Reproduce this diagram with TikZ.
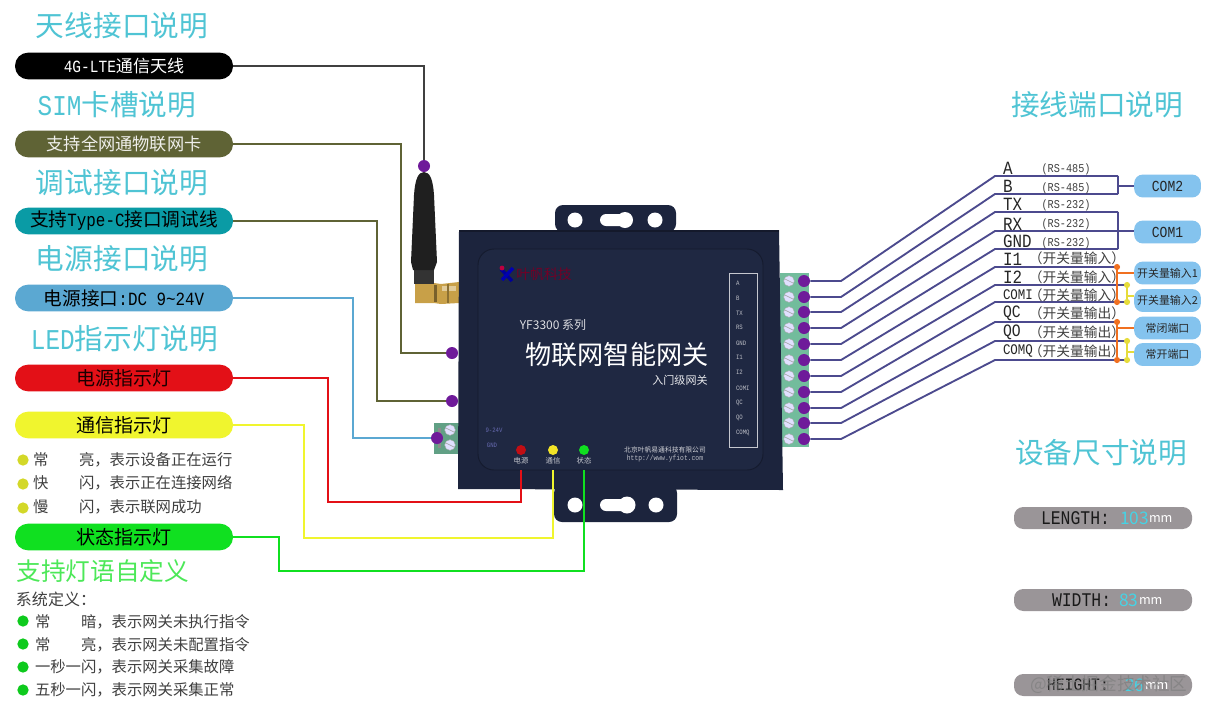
\documentclass[tikz,border=0pt]{standalone}
\usepackage{fontspec}
\setmainfont{Noto Sans CJK SC}
\newfontfamily\nar[FakeStretch=0.85]{Liberation Mono}
\usetikzlibrary{calc}
\definecolor{titlec}{HTML}{4FC4D4}
\definecolor{dimc}{HTML}{45D3E5}
\definecolor{dotc}{HTML}{6F1A9A}
\definecolor{wirec}{HTML}{4C4A8E}
\definecolor{bodyc}{HTML}{1C243D}
\definecolor{panelc}{HTML}{1F2842}
\definecolor{olivec}{HTML}{5F6335}
\definecolor{tealc}{HTML}{0A9BA5}
\definecolor{bluec}{HTML}{5BA8D2}
\definecolor{redc}{HTML}{E31017}
\definecolor{yelc}{HTML}{F0F52E}
\definecolor{grnc}{HTML}{10E020}
\definecolor{lbluec}{HTML}{84C3EE}
\definecolor{orangec}{HTML}{F07020}
\definecolor{ylinec}{HTML}{E6DC3A}
\definecolor{termc}{HTML}{72BC9C}
\definecolor{goldc}{HTML}{C8A048}
\definecolor{greyp}{HTML}{9A9598}
\tikzset{
  txt/.style={inner sep=0pt,outer sep=0pt},
  titletxt/.style={txt,text=titlec,font=\fontsize{21.5}{24}\selectfont},
  pill/.style={txt,rounded corners=9.8pt,minimum width=163.5pt,minimum height=20pt},
  dot/.style={circle,fill=dotc,inner sep=0pt,minimum size=9pt},
  bul/.style={circle,inner sep=0pt,minimum size=8.5pt},
  lamp/.style={circle,inner sep=0pt,minimum size=7.5pt},
  wire/.style={line width=1.4pt},
  rwire/.style={wire,draw=wirec,line join=round},
  listtxt/.style={txt,anchor=west,text=black!75,font=\fontsize{11.5}{14}\selectfont},
  bpill/.style={txt,fill=lbluec,rounded corners=6.5pt,minimum width=50pt,minimum height=17.2pt,text=black!85},
  gpill/.style={txt,fill=greyp,rounded corners=7pt,minimum width=133.5pt,minimum height=16.5pt},
  sig/.style={txt,anchor=west,text=black!85,font=\nar\fontsize{14}{16}\selectfont},
  rsl/.style={txt,text=black!75,font=\nar\fontsize{9}{10}\selectfont},
  swl/.style={txt,text=black!75,font=\fontsize{10.3}{12}\selectfont},
  pnl/.style={txt,text=white!70!bodyc,font=\nar\fontsize{5}{6}\selectfont},
  screw/.style={circle,fill=blue!12!white,draw=black!35,line width=.3pt,inner sep=0pt,minimum size=8pt},
  junc/.style={circle,inner sep=0pt,minimum size=4.6pt},
  dimt/.style={txt,anchor=west,font=\nar\fontsize{14.5}{16}\selectfont,text=black!90},
  dimv/.style={txt,anchor=west,font=\fontsize{13}{16}\selectfont,text=dimc},
  dimm/.style={txt,anchor=west,font=\fontsize{9.5}{12}\selectfont,text=white},
  lampt/.style={txt,text=white!75!bodyc,font=\fontsize{5.5}{7}\selectfont},
}
\begin{document}
\begin{tikzpicture}[x=0.75pt,y=-0.75pt]
\useasboundingbox (0,0) rectangle (1212,715);
\fill[white] (0,0) rectangle (1212,715);

% ---------- device ----------
\fill[bodyc,rounded corners=6pt] (555,232) -- (555,205) -- (676,205) -- (676,232) -- cycle;
\fill[bodyc,rounded corners=6pt] (554,485) -- (554,522) -- (677,522) -- (677,485) -- cycle;
\foreach \x/\y in {575/220,655/220,575/505,656/505} \fill[white] (\x,\y) circle (7.5);
\fill[white,rounded corners=4.5pt] (600,214) rectangle (628,226);
\fill[white] (625,220) circle (8);
\fill[white,rounded corners=4.5pt] (600,499) rectangle (630,511);
\fill[white] (627,505) circle (8.5);
% terminal blocks
\fill[termc!85!black] (434,423) rectangle (460,454);
\fill[black!45] (438,428) rectangle (441,448);
\fill[termc] (780,273) rectangle (809,447);
% antenna
\fill[goldc] (415,283) -- (434,283) -- (441,284) -- (459,282) -- (459,303) -- (441,304) -- (434,303) -- (415,303) -- cycle;
\fill[goldc!60!black] (434,285) rectangle (437,302);
\fill[goldc!55!white] (442,286) rectangle (456,291);
\fill[goldc!70!black] (447,284) rectangle (449,303);
\fill[black!80] (414,262) rectangle (434,284);
\fill[black!88] (424,172) .. controls (430,172) and (433,180) .. (434,195) -- (437,262) -- (434,270) -- (413,270) -- (411,262) -- (414,195) .. controls (415,180) and (418,172) .. (424,172) -- cycle;
% body
\fill[bodyc] (459,230) -- (779,230) -- (783,490) -- (458,489) -- cycle;
\draw[black!30!bodyc,line width=.8pt] (459,231) -- (779,231);
\fill[panelc,draw=black!25!bodyc,line width=.7pt,rounded corners=12pt] (478,249) rectangle (763,470);
% logo
\draw[blue!60!black,line width=2.6pt] (501,269) -- (512,281);
\draw[blue!70!black,line width=2.6pt] (513,268) -- (502,280);
\fill[purple] (502,268) circle (2.4);
\node[txt,text=purple!60!black,font=\fontsize{10.4}{12}\selectfont] (logo) at (544,274) {叶帆科技};
\node[txt,text=white!85!bodyc,font=\fontsize{9}{11}\selectfont] (series) at (553,325) {YF3300 系列};
\node[txt,text=white,font=\fontsize{19.6}{22}\selectfont] (devname) at (617,355) {物联网智能网关};
\node[txt,text=white!90!bodyc,font=\fontsize{8.3}{10}\selectfont] (devsub) at (680,380) {入门级网关};
\draw[white!75!bodyc,line width=.5pt] (729,273) rectangle (757,447);
\foreach \i/\t/\y in {1/A/283,2/B/298,3/TX/313,4/RS/327,5/GND/343,6/I1/357,7/I2/372,8/COMI/388,9/QC/403,10/QO/418,11/COMQ/433}
  \node[pnl,anchor=west] (pl\i) at (736,\y) {\t};
\node[txt,text=blue!40!white!60!bodyc,font=\nar\fontsize{5}{6}\selectfont] (v924) at (494,430) {9-24V};
\node[txt,text=blue!40!white!60!bodyc,font=\nar\fontsize{5}{6}\selectfont] (vgnd) at (492,445) {GND};
\node[lamp,fill=redc!85!black] (lr) at (521,450) {};
\node[lamp,fill=yelc!85!orange] (ly) at (553,450) {};
\node[lamp,fill=grnc] (lg) at (584,450) {};
\node[lampt] (lrt) at (521,461) {电源};
\node[lampt] (lyt) at (553,461) {通信};
\node[lampt] (lgt) at (584,461) {状态};
\node[txt,text=white!80!bodyc,font=\fontsize{5.1}{6}\selectfont] (comp) at (665,450) {北京叶帆易通科技有限公司};
\node[txt,text=white!70!bodyc,font=\nar\fontsize{5.6}{6}\selectfont] (url) at (665,459) {http://www.yfiot.com};
% screws
\foreach \y in {430,445} { \node[screw] (s\y) at (450,\y) {}; \draw[black!35,line width=.5pt] (446,\y-2) -- (454,\y+2); }
\foreach \y in {281,297,312,328,344,360,376,392,408,423,439} { \node[screw] (t\y) at (789,\y) {}; \draw[black!35,line width=.5pt] (785,\y-2) -- (793,\y+2); }

% ---------- left titles ----------
\node[titletxt] (t1) at (122,26) {天线接口说明};
\node[titletxt] (t2) at (117,105) {{\nar SIM}卡槽说明};
\node[titletxt] (t3) at (122,183) {调试接口说明};
\node[titletxt] (t4) at (122,259) {电源接口说明};
\node[titletxt] (t5) at (124.5,339) {{\nar LED}指示灯说明};

% ---------- pills ----------
\node[pill,fill=black,text=white] (p1) at (124,66) {\fontsize{12.8}{15}\selectfont{\nar 4G-LTE}通信天线};
\node[pill,fill=olivec,text=white!90!olivec] (p2) at (124,144) {\fontsize{12.9}{15}\selectfont 支持全网通物联网卡};
\node[pill,fill=tealc,text=black] (p3) at (124,221) {\fontsize{14}{16}\selectfont 支持{\nar Type-C}接口调试线};
\node[pill,fill=bluec,text=black] (p4) at (124,298) {\fontsize{14}{16}\selectfont 电源接口{\nar :DC 9\textasciitilde 24V}};
\node[pill,fill=redc,text=black!90!red] (p5) at (124,378) {\fontsize{14.3}{16}\selectfont 电源指示灯};
\node[pill,fill=yelc,text=black] (p6) at (124,425) {\fontsize{14.3}{16}\selectfont 通信指示灯};
\node[pill,fill=grnc,text=black] (p7) at (124,537) {\fontsize{14.3}{16}\selectfont 状态指示灯};

% ---------- left connectors ----------
\node[dot] (d1) at (424,166) {};
\node[dot] (d2) at (452,353) {};
\node[dot] (d3) at (452,401) {};
\node[dot] (d4) at (437,438) {};
\draw[wire,draw=black!75] (p1.east) -| (d1);
\coordinate (b2) at (401,353);
\coordinate (b3) at (377,401);
\coordinate (b4) at (353,438);
\draw[wire,draw=olivec] (p2.east) -| (b2) -- (d2);
\draw[wire,draw=olivec] (p3.east) -| (b3) -- (d3);
\draw[wire,draw=bluec] (p4.east) -| (b4) -- (d4);
\coordinate (b5) at (328,502);
\coordinate (b6) at (304,538);
\coordinate (b7) at (279,571);
\coordinate (e5) at (521,470);
\coordinate (e6) at (553,470);
\coordinate (e7) at (584,470);
\draw[wire,draw=redc] (p5.east) -| (b5) -| (e5);
\draw[wire,draw=yelc] (p6.east) -| (b6) -| (e6);
\draw[wire,draw=grnc] (p7.east) -| (b7) -| (e7);

% ---------- left lists ----------
\foreach \i/\y in {1/460,2/484,3/508} \node[bul,fill=yelc!88!black] (yb\i) at (23,\y) {};
\node[listtxt] (yt1) at (33,460) {常\hspace{23pt}亮，表示设备正在运行};
\node[listtxt] (yt2) at (33,483) {快\hspace{23pt}闪，表示正在连接网络};
\node[listtxt] (yt3) at (33,507) {慢\hspace{23pt}闪，表示联网成功};
\node[txt,anchor=west,text=grnc!75!white,font=\fontsize{18.5}{21}\selectfont] (cust) at (16.5,571) {支持灯语自定义};
\node[listtxt,font=\fontsize{12}{14}\selectfont] (sys) at (16,599) {系统定义：};
\foreach \i/\y in {1/621,2/644,3/667,4/690} \node[bul,fill=grnc!90!black] (gb\i) at (23,\y) {};
\node[listtxt] (gt1) at (35,622) {常\hspace{23pt}暗，表示网关未执行指令};
\node[listtxt] (gt2) at (35,645) {常\hspace{23pt}亮，表示网关未配置指令};
\node[listtxt] (gt3) at (35,667) {一秒一闪，表示网关采集故障};
\node[listtxt] (gt4) at (35,690) {五秒一闪，表示网关采集正常};

% ---------- right wires ----------
\node[titletxt] (t6) at (1097,105) {接线端口说明};
\node[titletxt] (t7) at (1101,453) {设备尺寸说明};
\foreach \i/\y/\ty/\xe in {1/281/176/1118,2/297/194/1118,3/312/212/1118,4/328/231/1134,5/344/249/1118,6/360/267/1117,7/376/285/1127,8/392/302/1127,9/408/322/1117,10/423/341/1127,11/439/360/1127}{
  \node[dot] (r\i) at (804,\y) {};
  \coordinate (rm\i) at (841,\y);
  \coordinate (rt\i) at (995,\ty);
  \coordinate (re\i) at (\xe,\ty);
  \draw[rwire] (r\i) -- (rm\i) -- (rt\i) -- (re\i);
}
\draw[rwire] (re1) -- (re2);
\draw[rwire] (re3) -- (re5 -| re3);

% right pills
\node[bpill] (com2) at (1167.5,186) {\nar\fontsize{11.5}{13}\selectfont COM2};
\node[bpill] (com1) at (1167.5,232) {\nar\fontsize{11.5}{13}\selectfont COM1};
\node[bpill] (sw1) at (1167.5,273) {\fontsize{8.2}{10}\selectfont 开关量输入1};
\node[bpill] (sw2) at (1167.5,300.5) {\fontsize{8.2}{10}\selectfont 开关量输入2};
\node[bpill] (nc) at (1167.5,328) {\fontsize{8.2}{10}\selectfont 常闭端口};
\node[bpill] (no) at (1167.5,354.5) {\fontsize{8.2}{10}\selectfont 常开端口};
\coordinate (c2) at (1118,186);
\draw[rwire] (c2) -- (com2.west |- c2);

% junctions
\foreach \n/\x/\y/\c in {o1/1117/267/orangec,o2/1117/302/orangec,o3/1117/322/orangec,o4/1117/360/orangec,y1/1127/285/ylinec,y2/1127/302/ylinec,y3/1127/341/ylinec,y4/1127/360/ylinec}
  \node[junc,fill=\c] (\n) at (\x,\y) {};
\draw[line width=1.5pt,orangec] (o1) -- (o2);
\draw[line width=1.5pt,orangec] (o3) -- (o4);
\draw[line width=1.5pt,ylinec] (y1) -- (y2);
\draw[line width=1.5pt,ylinec] (y3) -- (y4);
\coordinate (ob1) at ($(o1)!0.17!(o2)$);
\coordinate (ob2) at ($(o3)!0.16!(o4)$);
\coordinate (yb1x) at ($(y1)!0.65!(y2)$);
\coordinate (yb2x) at ($(y3)!0.58!(y4)$);
\draw[line width=1.5pt,orangec] (ob1) -- (sw1.west |- ob1);
\draw[line width=1.5pt,orangec] (ob2) -- (nc.west |- ob2);
\draw[line width=1.5pt,ylinec] (yb1x) -- (sw2.west |- yb1x);
\draw[line width=1.5pt,ylinec] (yb2x) -- (no.west |- yb2x);

% right labels
\node[sig] (la) at (1003,168) {A};
\node[sig] (lb) at (1003,186) {B};
\node[sig] (ltx) at (1003,204) {TX};
\node[sig] (lrx) at (1003,224) {RX};
\node[sig] (lgnd) at (1003,241) {GND};
\node[sig] (li1) at (1003,259) {I1};
\node[sig] (li2) at (1003,277) {I2};
\node[sig,font=\nar\fontsize{11}{13}\selectfont] (lcomi) at (1003,295) {COMI};
\node[sig,font=\nar\fontsize{13}{15}\selectfont] (lqc) at (1003,313) {QC};
\node[sig,font=\nar\fontsize{13}{15}\selectfont] (lqo) at (1003,332) {QO};
\node[sig,font=\nar\fontsize{11}{13}\selectfont] (lcomq) at (1003,351) {COMQ};
\foreach \i/\t/\y in {1/485/169,2/485/188,3/232/205,4/232/224,5/232/243}
  \node[rsl] (rs\i) at (1066,\y) {(RS-\t)};
\foreach \i/\t/\y in {1/入/258,2/入/277,3/入/295,4/出/313,5/出/332,6/出/351}
  \node[swl] (sw\i t) at (1077,\y) {\hspace*{-5.5pt}（开关量输\t）\hspace*{-5.5pt}};

% ---------- dimension pills ----------
\node[gpill] (g1) at (1103,518) {};
\node[gpill] (g2) at (1103,600) {};
\node[gpill] (g3) at (1103,685) {};
\node[dimt] (g1a) at (1041,518) {LENGTH:};
\node[dimv] (g1b) at (1120,518) {103};
\node[dimm] (g1c) at (1149,519) {mm};
\node[dimt] (g2a) at (1052,600) {WIDTH:};
\node[dimv] (g2b) at (1119,600) {83};
\node[dimm] (g2c) at (1139,601) {mm};
\node[dimt,font=\nar\fontsize{13}{15}\selectfont] (g3a) at (1047,685) {HEIGHT:};
\node[dimv] (g3b) at (1125,685) {26};
\node[dimm] (g3c) at (1145,686) {mm};
\node[txt,anchor=west,text=black!50,opacity=.75,font=\fontsize{13.2}{15}\selectfont] (wm) at (1030,685) {@稀土掘金技术社区};
\end{tikzpicture}
\end{document}
